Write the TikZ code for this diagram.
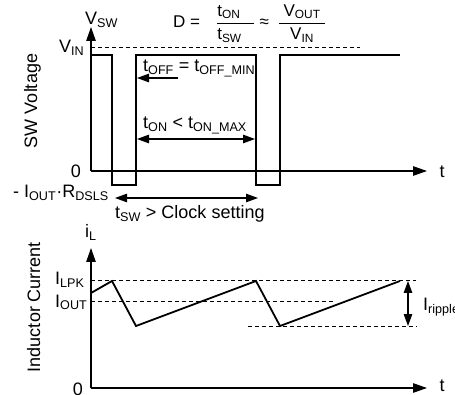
\documentclass[tikz,border=0pt]{standalone}
\usepackage{amsmath}
\usepackage{fontspec}
\setmainfont{Liberation Sans}
\usetikzlibrary{arrows.meta, positioning}
\newcommand{\lo}[1]{\textsubscript{#1}}
\tikzset{
  lbl/.style={inner sep=0pt,font=\fontsize{18}{20}\selectfont},
  axisarrow/.style={-{Triangle[length=14pt,width=9.5pt]},line width=1.2pt},
  waveline/.style={line width=1.8pt,line join=miter},
  guideline/.style={dash pattern=on 4pt off 3pt,line width=1pt},
  spanarrow/.style={{Triangle[length=12pt,width=8.5pt]}-{Triangle[length=12pt,width=8.5pt]},line width=1.1pt},
  onearrow/.style={-{Triangle[length=12pt,width=8.5pt]},line width=1.1pt},
}

\begin{document}
\begin{tikzpicture}[x=1pt,y=-1pt]
  \useasboundingbox (0,0) rectangle (455,395);
  % switch node voltage
  \coordinate (vo) at (91,171);
  \coordinate (vtop) at (91,27);
  \coordinate (vend) at (427,171);
  \coordinate (vinA) at (91,48);
  \coordinate (vinB) at (360,48);
  \draw[guideline] (vinA) -- (vinB);
  \draw[axisarrow] (vo) -- (vtop);
  \draw[axisarrow] (vo) -- (vend);
  \draw[waveline] (92,55) -- (112,55) -- (112,185) -- (136,185) -- (136,55)
    -- (256,55) -- (256,185) -- (280,185) -- (280,55) -- (400,55);
  \node[lbl,anchor=base west] (vsw) at (85,25) {V\lo{SW}};
  \node[lbl,anchor=base west] (vin) at (59,53) {V\lo{IN}};
  \node[lbl,anchor=base east] (zeroA) at (81,178) {0};
  \node[lbl,anchor=base west] (vneg) at (13,198) {- I\lo{OUT}·R\lo{DSLS}};
  \node[lbl] (tA) at (442,172) {t};
  \node[lbl,rotate=90,anchor=base] (swv) at (37,101) {SW Voltage};
  \node[lbl,anchor=base west,font=\fontsize{17}{19}\selectfont] (duty) at (173,28)
    {D =\hspace{16pt}$\genfrac{}{}{1.2pt}{0}{\makebox[37pt][l]{t\lo{ON}}}{\makebox[37pt][l]{t\lo{SW}}}$\hspace{4pt}≈\hspace{9pt}$\genfrac{}{}{1.2pt}{0}{\makebox[46pt][c]{V\lo{OUT}}}{\makebox[46pt][c]{V\lo{IN}}}$};
  % timing marks
  \node[lbl,anchor=base west] (toff) at (143,72) {t\lo{OFF} = t\lo{OFF\_MIN}};
  \coordinate (toffA) at (178,78);
  \coordinate (toffB) at (137,78);
  \draw[onearrow] (toffA) -- (toffB);
  \node[lbl,anchor=base west] (ton) at (143,129) {t\lo{ON} < t\lo{ON\_MAX}};
  \coordinate (tonA) at (137,139);
  \coordinate (tonB) at (255,139);
  \draw[spanarrow] (tonA) -- (tonB);
  \node[lbl,anchor=base west] (tsw) at (115,219) {t\lo{SW} > Clock setting};
  \coordinate (tswA) at (115,198);
  \coordinate (tswB) at (258,198);
  \draw[spanarrow] (tswA) -- (tswB);
  % inductor current
  \coordinate (io) at (91,388);
  \coordinate (itop) at (91,248);
  \coordinate (iend) at (427,388);
  \coordinate (pkA) at (91,281);
  \coordinate (pkB) at (416,281);
  \coordinate (avA) at (91,302);
  \coordinate (avB) at (333,302);
  \coordinate (lwA) at (248,326);
  \coordinate (lwB) at (417,326);
  \draw[guideline] (pkA) -- (pkB);
  \draw[guideline] (avA) -- (avB);
  \draw[guideline] (lwA) -- (lwB);
  \draw[axisarrow] (io) -- (itop);
  \draw[axisarrow] (io) -- (iend);
  \draw[waveline] (91,293) -- (112,281) -- (136,326) -- (256,281) -- (280,326) -- (400,281);
  \node[lbl,anchor=base west] (il) at (85,238) {i\lo{L}};
  \node[lbl,anchor=base west] (ilpk) at (55,285) {I\lo{LPK}};
  \node[lbl,anchor=base west] (iout) at (55,307) {I\lo{OUT}};
  \node[lbl,anchor=base east] (zeroB) at (83,395) {0};
  \node[lbl] (tB) at (442,386) {t};
  \node[lbl,rotate=90,anchor=base] (indc) at (40,307) {Inductor Current};
  \coordinate (rpA) at (408,281);
  \coordinate (rpB) at (408,326);
  \draw[spanarrow] (rpA) -- (rpB);
  \node[lbl,anchor=base west] (irip) at (423,310) {I\lo{ripple}};
\end{tikzpicture}
\end{document}
